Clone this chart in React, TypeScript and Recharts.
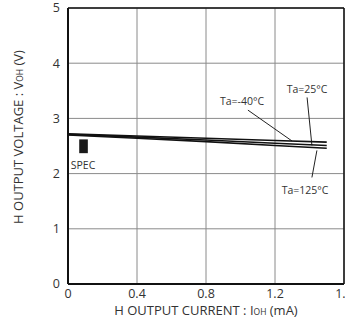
import {
  LineChart,
  Line,
  XAxis,
  YAxis,
  CartesianGrid,
  ReferenceLine,
  ReferenceArea,
  ReferenceDot,
  Label,
} from 'recharts';

const currents = [0, 0.4, 0.8, 1.2, 1.5];
const vMinus40 = [2.72, 2.68, 2.64, 2.6, 2.57];
const v25 = [2.71, 2.66, 2.61, 2.55, 2.51];
const v125 = [2.7, 2.64, 2.58, 2.51, 2.46];

const xTicks = [0, 0.4, 0.8, 1.2, 1.6];
const yTicks = [0, 1, 2, 3, 4, 5];

const spec = { x1: 0.065, x2: 0.115, y1: 2.37, y2: 2.62 };

const notes = [
  { text: 'Ta=-40°C', x: 1.009, y: 3.31, from: [1.043, 3.15], to: [1.299, 2.59] },
  { text: 'Ta=25°C', x: 1.386, y: 3.53, from: [1.386, 3.38], to: [1.414, 2.51] },
  { text: 'Ta=125°C', x: 1.374, y: 1.7, from: [1.414, 1.93], to: [1.443, 2.42] },
];

const data = currents.map((c, i) => ({
  current: c,
  tMinus40: vMinus40[i],
  t25: v25[i],
  t125: v125[i],
}));

const FONT = '"Open Sans", sans-serif';
const tick = { fill: '#333', fontSize: 12.5, fontFamily: FONT };

const XTitle = ({ viewBox }: any) => (
  <text
    x={viewBox.x + viewBox.width / 2}
    y={315}
    textAnchor="middle"
    fill="#333"
    fontSize={13}
    fontFamily={FONT}
  >
    H OUTPUT CURRENT : I<tspan fontSize={8.5}>OH</tspan> (mA)
  </text>
);

const YTitle = () => (
  <text
    x={0}
    y={0}
    transform="translate(23,137) rotate(-90)"
    textAnchor="middle"
    fill="#333"
    fontSize={13}
    fontFamily={FONT}
  >
    H OUTPUT VOLTAGE : V<tspan fontSize={8.5}>OH</tspan> (V)
  </text>
);

export default function App() {
  return (
    <div style={{ position: 'absolute', left: 0, top: 0, background: '#fff' }}>
      <LineChart
        width={345}
        height={322}
        data={data}
        margin={{ top: 8, right: 1, left: 0, bottom: 0 }}
      >
        <CartesianGrid stroke="#8a8a8a" strokeWidth={1} />
        <XAxis
          dataKey="current"
          type="number"
          domain={[0, 1.6]}
          ticks={xTicks}
          interval={0}
          tickFormatter={(v: number) => (v === 0 ? '0' : String(v))}
          height={38}
          tick={tick}
          tickLine={false}
          axisLine={{ stroke: '#111', strokeWidth: 2 }}
          tickMargin={-1}
        >
          <Label content={XTitle} />
        </XAxis>
        <YAxis
          type="number"
          domain={[0, 5]}
          ticks={yTicks}
          interval={0}
          width={68}
          tick={tick}
          tickLine={false}
          axisLine={{ stroke: '#111', strokeWidth: 2 }}
          tickMargin={2}
        >
          <Label content={YTitle} />
        </YAxis>
        <ReferenceLine y={5} stroke="#111" strokeWidth={1.5} />
        <ReferenceLine x={1.6} stroke="#111" strokeWidth={1.5} />
        <ReferenceArea x1={spec.x1} x2={spec.x2} y1={spec.y1} y2={spec.y2} fill="#1a1a1a" fillOpacity={1} stroke="none" />
        <ReferenceDot x={0.087} y={2.15} r={0} fill="none" stroke="none">
          <Label value="SPEC" position="center" fill="#333" fontSize={10.5} fontFamily={FONT} />
        </ReferenceDot>
        {notes.map((n) => (
          <ReferenceLine
            key={n.text + 'l'}
            segment={[
              { x: n.from[0], y: n.from[1] },
              { x: n.to[0], y: n.to[1] },
            ]}
            stroke="#222"
            strokeWidth={1}
          />
        ))}
        {notes.map((n) => (
          <ReferenceDot key={n.text} x={n.x} y={n.y} r={0} fill="none" stroke="none">
            <Label value={n.text} position="center" fill="#333" fontSize={10.5} fontFamily={FONT} />
          </ReferenceDot>
        ))}
        <Line type="linear" dataKey="tMinus40" stroke="#111" strokeWidth={1.6} dot={false} isAnimationActive={false} />
        <Line type="linear" dataKey="t25" stroke="#111" strokeWidth={1.6} dot={false} isAnimationActive={false} />
        <Line type="linear" dataKey="t125" stroke="#111" strokeWidth={1.6} dot={false} isAnimationActive={false} />
      </LineChart>
    </div>
  );
}
